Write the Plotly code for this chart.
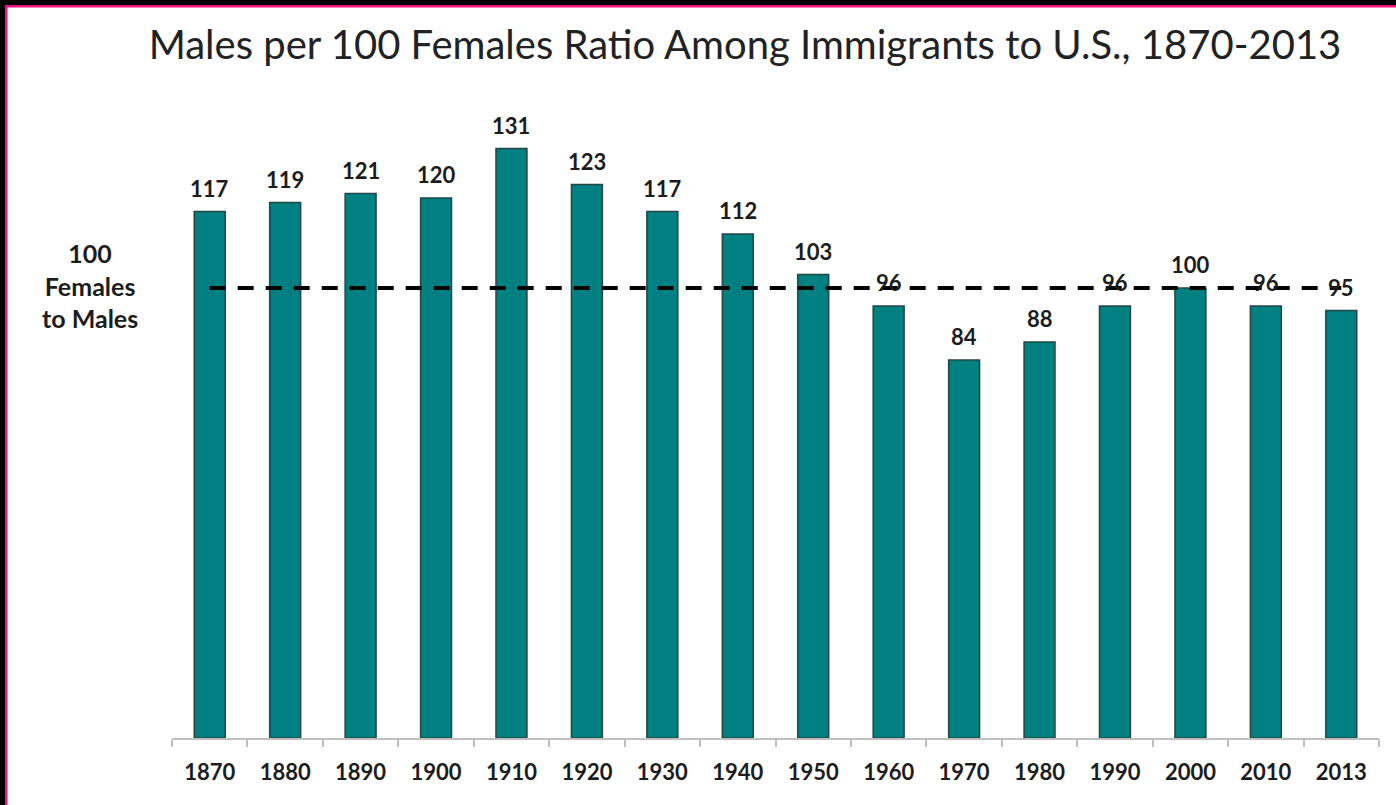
import plotly.graph_objects as go

years = ["1870", "1880", "1890", "1900", "1910", "1920", "1930", "1940",
         "1950", "1960", "1970", "1980", "1990", "2000", "2010", "2013"]
ratio = [117, 119, 121, 120, 131, 123, 117, 112, 103, 96, 84, 88, 96, 100, 96, 95]
parity = 100

title_text = "Males per 100 Females Ratio Among Immigrants to U.S., 1870-2013"
side_text = "100<br>Females<br>to Males"

FONT = "Lato"
TXT = "#1c1c1c"

W, H = 1396, 805
ML, MR, MT, MB = 172, 17, 108, 67
PW, PH = W - ML - MR, H - MT - MB


def px_x(p):
    return (p - ML) / PW


def px_y(p):
    return (H - MB - p) / PH


fig = go.Figure()
fig.add_trace(go.Bar(
    x=years, y=ratio,
    marker=dict(color="#008080", line=dict(color="#234545", width=1.5)),
    width=0.41,
    hoverinfo="x+y",
))
fig.add_trace(go.Scatter(
    x=[years[0], years[-1]], y=[parity, parity],
    mode="lines",
    line=dict(color="black", width=4, dash="16px,12px"),
    hoverinfo="skip",
))

for i, v in enumerate(ratio):
    fig.add_annotation(x=i, y=v, text=str(v), showarrow=False,
                       yanchor="bottom", yshift=8,
                       font=dict(family=FONT, size=22, color=TXT, weight="bold"))

fig.add_annotation(xref="paper", yref="y", x=px_x(90), y=parity, text=side_text,
                   showarrow=False, xanchor="center", yanchor="middle", align="center",
                   yshift=3,
                   font=dict(family=FONT, size=25, color=TXT, weight="bold"))

# frame strips (top and left edges)
shapes = [
    dict(type="rect", xref="paper", yref="paper",
         x0=px_x(0), x1=px_x(W), y0=px_y(5), y1=px_y(0),
         fillcolor="black", line=dict(width=0), layer="above"),
    dict(type="rect", xref="paper", yref="paper",
         x0=px_x(5), x1=px_x(W), y0=px_y(7.5), y1=px_y(5),
         fillcolor="#f0127f", line=dict(width=0), layer="above"),
    dict(type="rect", xref="paper", yref="paper",
         x0=px_x(0), x1=px_x(5), y0=px_y(H), y1=px_y(0),
         fillcolor="black", line=dict(width=0), layer="above"),
    dict(type="rect", xref="paper", yref="paper",
         x0=px_x(5), x1=px_x(7.5), y0=px_y(H), y1=px_y(5),
         fillcolor="#f0127f", line=dict(width=0), layer="above"),
]

fig.update_layout(
    width=W, height=H,
    margin=dict(l=ML, r=MR, t=MT, b=MB),
    paper_bgcolor="white", plot_bgcolor="white",
    showlegend=False,
    shapes=shapes,
    title=dict(text=title_text, x=745 / W, xanchor="center",
               y=1 - 45 / H, yanchor="middle", yref="container",
               font=dict(family=FONT, size=40, color="#222222")),
    xaxis=dict(type="category", range=[-0.5, len(years) - 0.5],
               showgrid=False, showline=True, linecolor="#bfbfbf",
               linewidth=1.5, ticks="outside", tickson="boundaries", ticklen=7,
               tickcolor="#bfbfbf", tickwidth=1.5, tickangle=0,
               ticklabelstandoff=14,
               tickfont=dict(family=FONT, size=22, color=TXT, weight="bold")),
    yaxis=dict(range=[0, 140], visible=False, showgrid=False, zeroline=False),
)

fig.write_html("out.html", config={"displayModeBar": False},
               post_script="document.body.style.margin='0';document.body.style.overflow='hidden';")
